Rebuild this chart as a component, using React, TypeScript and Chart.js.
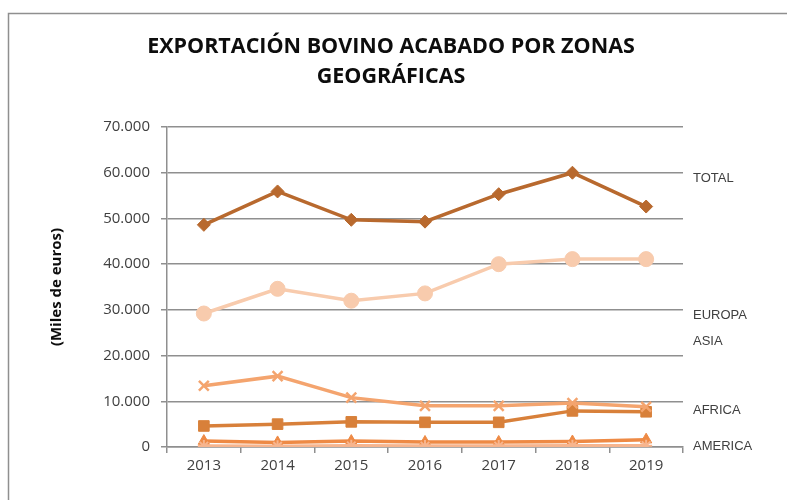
import React, { useEffect, useRef } from "react";
import { Chart, registerables } from "chart.js";

Chart.register(...registerables);

const years = ["2013", "2014", "2015", "2016", "2017", "2018", "2019"];
const total = [48600, 55900, 49700, 49300, 55300, 60000, 52600];
const europa = [29200, 34600, 32000, 33600, 40000, 41100, 41100];
const asia = [13400, 15500, 10800, 9000, 9000, 9600, 8800];
const africa = [4600, 5000, 5500, 5400, 5400, 7900, 7700];
const america = [1300, 1000, 1300, 1100, 1100, 1200, 1600];
const otros = [200, 150, 250, 200, 200, 250, 300];

const titleLines = ["EXPORTACIÓN BOVINO ACABADO POR ZONAS", "GEOGRÁFICAS"];
const yTitle = "(Miles de euros)";
const sideLabels = ["TOTAL", "EUROPA", "ASIA", "AFRICA", "AMERICA"];
const sideLabelValues = [58800, 28700, 23000, 8100, 200];

const GRID = "#8f8f8f";

const textPlugin = {
  id: "textPlugin",
  beforeDraw(chart: any) {
    const ctx = chart.ctx;
    ctx.save();
    ctx.fillStyle = "#ffffff";
    ctx.fillRect(0, 0, chart.width, chart.height);
    ctx.strokeStyle = GRID;
    ctx.lineWidth = 1.5;
    ctx.beginPath();
    ctx.moveTo(8.5, chart.height);
    ctx.lineTo(8.5, 13.5);
    ctx.lineTo(chart.width, 13.5);
    ctx.stroke();
    ctx.restore();
  },
  afterDraw(chart: any) {
    const ctx = chart.ctx;
    ctx.save();
    ctx.fillStyle = "#0d0d0d";
    ctx.font = "bold 21.5px 'Open Sans'";
    ctx.textAlign = "center";
    ctx.textBaseline = "middle";
    ctx.fillText(titleLines[0], 391, 47);
    ctx.fillText(titleLines[1], 391, 77);

    ctx.save();
    ctx.translate(57, 287);
    ctx.rotate(-Math.PI / 2);
    ctx.font = "bold 15px 'Open Sans'";
    ctx.fillStyle = "#0d0d0d";
    ctx.fillText(yTitle, 0, 0);
    ctx.restore();

    const y = chart.scales.y;
    ctx.font = "13px 'Liberation Sans'";
    ctx.fillStyle = "#404040";
    ctx.textAlign = "left";
    sideLabels.forEach((l, i) => {
      ctx.fillText(l, 693, y.getPixelForValue(sideLabelValues[i]));
    });
    ctx.restore();
  },
};

export default function App() {
  const ref = useRef<HTMLCanvasElement>(null);
  useEffect(() => {
    if (!ref.current) return;
    const mk = (label: string, data: number[], color: string, style: string, radius: number, bw = 1) => ({
      label,
      data,
      borderColor: color,
      backgroundColor: color,
      pointBackgroundColor: color,
      pointBorderColor: color,
      pointStyle: style,
      pointRadius: radius,
      pointBorderWidth: bw,
      borderWidth: 3.5,
      tension: 0,
    });
    const chart = new Chart(ref.current, {
      type: "line",
      data: {
        labels: years,
        datasets: [
          { ...mk("OTROS", otros, "#F7B58E", "star", 6, 2), order: 0 },
          { ...mk("AMERICA", america, "#EE8A45", "triangle", 6.5), order: 1 },
          { ...mk("ASIA", asia, "#F4A46E", "crossRot", 7, 2.5), order: 2 },
          { ...mk("AFRICA", africa, "#D8803A", "rect", 7.5), order: 3 },
          { ...mk("EUROPA", europa, "#F8CBAD", "circle", 7.5), order: 4 },
          { ...mk("TOTAL", total, "#B8692E", "rectRot", 6.5), order: 5 },
        ],
      },
      options: {
        responsive: false,
        animation: false,
        devicePixelRatio: 1,
        layout: { padding: { left: 0, right: 104, top: 127, bottom: 0 } },
        plugins: { legend: { display: false }, tooltip: { enabled: false }, title: { display: false } },
        scales: {
          x: {
            offset: true,
            grid: { offset: true, drawOnChartArea: false, drawTicks: true, tickLength: 6, color: GRID, lineWidth: 1.5 },
            border: { display: true, color: GRID, width: 1.5 },
            ticks: { font: { family: "'Open Sans'", size: 15 }, color: "#404040", padding: 4, maxRotation: 0 },
            afterFit: (s: any) => {
              s.height = 53;
            },
          },
          y: {
            min: 0,
            max: 70000,
            grid: { color: GRID, lineWidth: 1.5, tickLength: 6, drawTicks: true },
            border: { display: true, color: GRID, width: 1.5 },
            ticks: {
              stepSize: 10000,
              padding: 11,
              font: { family: "'Open Sans'", size: 15 },
              color: "#404040",
              callback: (v: any) => (v === 0 ? "0" : v / 1000 + ".000"),
            },
            afterFit: (s: any) => {
              s.width = 167;
            },
          },
        },
      },
      plugins: [textPlugin],
    } as any);
    return () => chart.destroy();
  }, []);
  return (
    <div style={{ position: "absolute", left: 0, top: 0, width: 787, height: 500 }}>
      <canvas ref={ref} width={787} height={500} />
    </div>
  );
}
